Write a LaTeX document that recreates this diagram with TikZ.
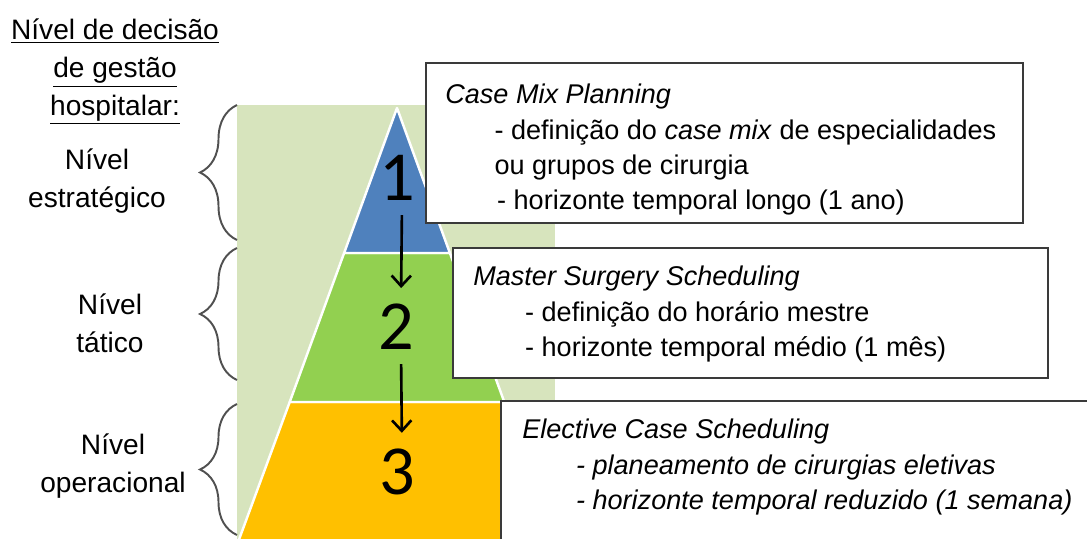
\documentclass[tikz,border=0pt]{standalone}
\usepackage{fontspec}
\setmainfont{Liberation Sans}
\newfontfamily\carlito{Carlito}
\usepackage{xcolor}
\usepackage{tikz}
\usetikzlibrary{arrows.meta}
\usetikzlibrary{positioning}
\usetikzlibrary{decorations.pathreplacing}

\definecolor{bgpale}{HTML}{D7E4BD}
\definecolor{tipblue}{HTML}{4F81BD}
\definecolor{midgreen}{HTML}{92D050}
\definecolor{baseorange}{HTML}{FFC000}
\definecolor{framegray}{HTML}{3A3A3A}
\definecolor{bracegray}{HTML}{505050}

\tikzset{
	levelbox/.style={draw=framegray, line width=1.2pt, fill=white, inner sep=0pt, anchor=north west},
	boxtext/.style={align=left, anchor=north west, inner sep=0pt, font=\fontsize{15.4}{20}\selectfont},
	levellabel/.style={align=center, inner sep=0pt, font=\fontsize{16}{21.5}\selectfont},
	stepnum/.style={inner sep=0pt, font=\carlito\fontsize{40}{40}\selectfont},
	flow/.style={-{Straight Barb[length=6pt,width=11pt]}, line width=1.5pt, shorten <=8pt, shorten >=9pt},
	lvlbrace/.style={decorate, decoration={brace, amplitude=0.74cm}, draw=bracegray, line width=1.1pt},
	slab/.style={draw=white, line width=1.4pt, line join=round},
}

\begin{document}
\begin{tikzpicture}[x=0.02cm, y=-0.02cm, >=Latex]
		\useasboundingbox (0,0) rectangle (1087,538);
		\clip (0,0) rectangle (1087,538);

		% pale backdrop and the three-level pyramid
		\fill[bgpale] (237,105) rectangle (555,545);
		\path[slab, fill=baseorange] (289.7,402) -- (504.3,402) -- (557,545) -- (237,545) -- cycle;
		\path[slab, fill=midgreen] (344.1,253) -- (449.9,253) -- (504.3,402) -- (289.7,402) -- cycle;
		\path[slab, fill=tipblue] (397,108) -- (449.9,253) -- (344.1,253) -- cycle;

		% braces on the left
		\draw[lvlbrace] (237,240) -- (237,105);
		\draw[lvlbrace] (237,380) -- (237,248);
		\draw[lvlbrace] (237,535) -- (237,404);

		% level names
		\node[levellabel] (title) at (115,72) {\underline{Nível de decisão}\\ \underline{de gestão}\\ \underline{hospitalar:}};
		\node[levellabel] (strat) at (97,181) {Nível\\estratégico};
		\node[levellabel] (tact) at (110,323) {Nível\\tático};
		\node[levellabel] (oper) at (113,466) {Nível\\operacional};

		% numbers and flow
		\node[stepnum] (n1) at (397,178) {1};
		\node[stepnum] (n2) at (396,327) {2};
		\node[stepnum] (n3) at (397,472) {3};
		\draw[flow] ([xshift=0.1cm]n1.south) -- ([xshift=0.1cm]n2.north);
		\draw[flow] ([xshift=0.1cm]n2.south) -- ([xshift=0.1cm]n3.north);

		% description boxes
		\node[levelbox, minimum width=11.94cm, minimum height=3.2cm] (cmp) at (425,62) {};
		\node[boxtext] (cmptext) at ([shift={(20,22)}]cmp.north west)
			{\textit{Case Mix Planning}\\
			\hspace*{28pt}- definição do \textit{case mix} de especialidades\\
			\hspace*{28pt}ou grupos de cirurgia\\
			\hspace*{29.5pt}- horizonte temporal longo (1 ano)};

		\node[levelbox, minimum width=11.9cm, minimum height=2.6cm] (mss) at (452,247) {};
		\node[boxtext] (msstext) at ([shift={(21,19)}]mss.north west)
			{\textit{Master Surgery Scheduling}\\
			\hspace*{29.5pt}- definição do horário mestre\\
			\hspace*{29.5pt}- horizonte temporal médio (1 mês)};

		\node[levelbox, minimum width=12.4cm, minimum height=3cm] (ecs) at (500,400) {};
		\node[boxtext] (ecstext) at ([shift={(22,19)}]ecs.north west)
			{\textit{Elective Case Scheduling}\\
			\hspace*{30.6pt}\textit{- planeamento de cirurgias eletivas}\\
			\hspace*{30.6pt}\textit{- horizonte temporal reduzido (1 semana)}};
	\end{tikzpicture}
\end{document}
